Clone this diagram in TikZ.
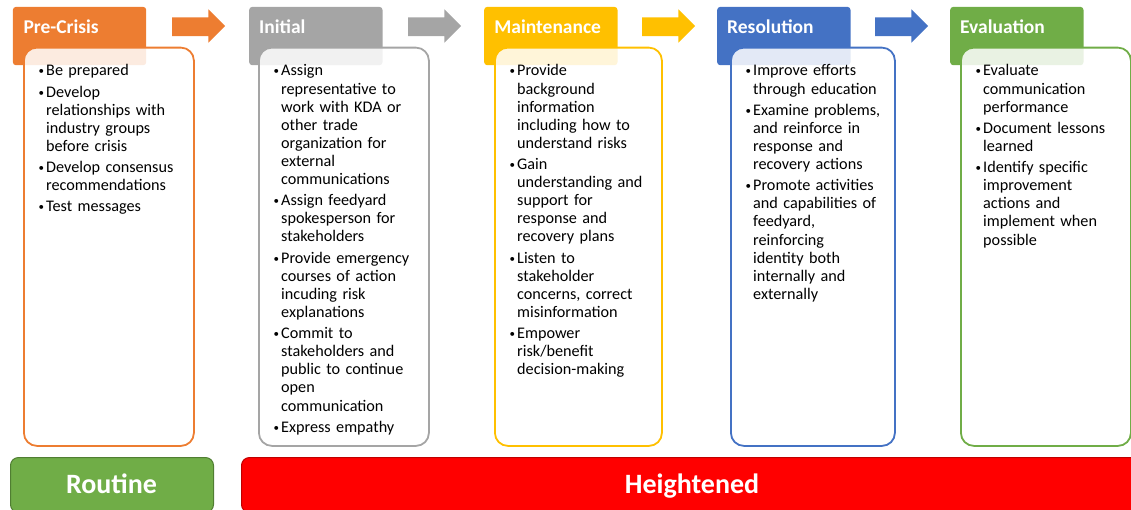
\documentclass[tikz,border=0pt]{standalone}
\usepackage{fontspec}
\setmainfont{Carlito}
\definecolor{orangeC}{HTML}{ED7D31}
\definecolor{grayC}{HTML}{A5A5A5}
\definecolor{yellowC}{HTML}{FFC000}
\definecolor{blueC}{HTML}{4472C4}
\definecolor{greenC}{HTML}{70AD47}
\definecolor{greenD}{HTML}{507E32}
\definecolor{redC}{HTML}{FF0000}
\definecolor{redD}{HTML}{C00000}
\newcommand\bitem[1]{\par\hangindent=8.5pt\hangafter=1\noindent\hbox to 8.5pt{\hskip0.8pt\raisebox{1pt}{\fontsize{11}{11}\selectfont\textbullet}\hss}\rule{0pt}{13pt}#1\par}
\tikzset{
  hdr/.style={fill=#1, draw=none, rounded corners=3pt, inner sep=0, anchor=north west, minimum width=133.3pt, minimum height=58.3pt},
  card/.style={draw=#1, line width=1.8pt, fill=white, fill opacity=0.85, rounded corners=13pt, inner sep=0, anchor=north west, minimum height=398.3pt},
  hdrtext/.style={anchor=base west, inner sep=0, text=white, font=\fontsize{19.5}{22}\selectfont\bfseries},
  listtext/.style={anchor=north west, inner sep=0, text width=180pt, font=\fontsize{16.2}{18.1}\selectfont,
    execute at begin node={\setlength{\parskip}{3.1pt}\raggedright}},
  barbox/.style={line width=1pt, rounded corners=8pt, inner sep=0, anchor=north west, minimum height=55pt},
  bartext/.style={anchor=base, inner sep=0, text=white, font=\fontsize{28}{32}\selectfont\bfseries},
  blockarrow/.pic={\fill (0,17.3) -- (36.3,17.3) -- (36.3,9.3) -- (53,26) -- (36.3,42.7) -- (36.3,36) -- (0,36) -- cycle;}
}
\begin{document}
\begin{tikzpicture}[x=1pt,y=-1pt]
\useasboundingbox (0,0) rectangle (1131,509);
% headers
\node[hdr=orangeC] (h1) at (12.7,6.7) {};
\node[hdr=grayC] (h2) at (249,6.7) {};
\node[hdr=yellowC] (h3) at (484,6.7) {};
\node[hdr=blueC] (h4) at (717,6.7) {};
\node[hdr=greenC] (h5) at (950,6.7) {};
% cards
\node[card=orangeC, minimum width=170pt] (c1) at (23,46.7) {};
\node[card=grayC, minimum width=170pt] (c2) at (258,46.7) {};
\node[card=yellowC, minimum width=167pt] (c3) at (494,46.7) {};
\node[card=blueC, minimum width=164pt] (c4) at (730,46.7) {};
\node[card=greenC, minimum width=170pt] (c5) at (960,46.7) {};
% header texts
\node[hdrtext] (t1) at (23.3,33.3) {Pre-Crisis};
\node[hdrtext] (t2) at (259,33.3) {Initial};
\node[hdrtext] (t3) at (494.2,33.3) {Maintenance};
\node[hdrtext] (t4) at (727,33.3) {Resolution};
\node[hdrtext] (t5) at (960,33.3) {Evaluation};
% arrows
\pic[color=orangeC] at (172,0) {blockarrow};
\pic[color=grayC] at (408,0) {blockarrow};
\pic[color=yellowC] at (642,0) {blockarrow};
\pic[color=blueC] at (875,0) {blockarrow};
% lists
\node[listtext] (l1) at (37.5,54.5) {%
\bitem{Be prepared}
\bitem{Develop\newline relationships with\newline industry groups\newline before crisis}
\bitem{Develop consensus\newline recommendations}
\bitem{Test messages}};
\node[listtext] (l2) at (272.5,54.5) {%
\bitem{Assign\newline representative to\newline work with KDA or\newline other trade\newline organization for\newline external\newline communications}
\bitem{Assign feedyard\newline spokesperson for\newline stakeholders}
\bitem{Provide emergency\newline courses of action\newline incuding risk\newline explanations}
\bitem{Commit to\newline stakeholders and\newline public to continue\newline open\newline communication}
\bitem{Express empathy}};
\node[listtext] (l3) at (508.5,54.5) {%
\bitem{Provide\newline background\newline information\newline including how to\newline understand risks}
\bitem{Gain\newline understanding and\newline support for\newline response and\newline recovery plans}
\bitem{Listen to\newline stakeholder\newline concerns, correct\newline misinformation}
\bitem{Empower\newline risk/benefit\newline decision-making}};
\node[listtext] (l4) at (744.5,54.5) {%
\bitem{Improve efforts\newline through education}
\bitem{Examine problems,\newline and reinforce in\newline response and\newline recovery actions}
\bitem{Promote activities\newline and capabilities of\newline feedyard,\newline reinforcing\newline identity both\newline internally and\newline externally}};
\node[listtext] (l5) at (974.5,54.5) {%
\bitem{Evaluate\newline communication\newline performance}
\bitem{Document lessons\newline learned}
\bitem{Identify specific\newline improvement\newline actions and\newline implement when\newline possible}};
% bottom bars
\node[barbox, fill=greenC, draw=greenD, minimum width=203pt] (routine) at (10,457) {};
\node[barbox, fill=redC, draw=redD, minimum width=904pt] (heightened) at (241,457) {};
\node[bartext] (rt) at (111.5,493) {Routine};
\node[bartext] (ht) at (692,493) {Heightened};
\end{tikzpicture}
\end{document}
